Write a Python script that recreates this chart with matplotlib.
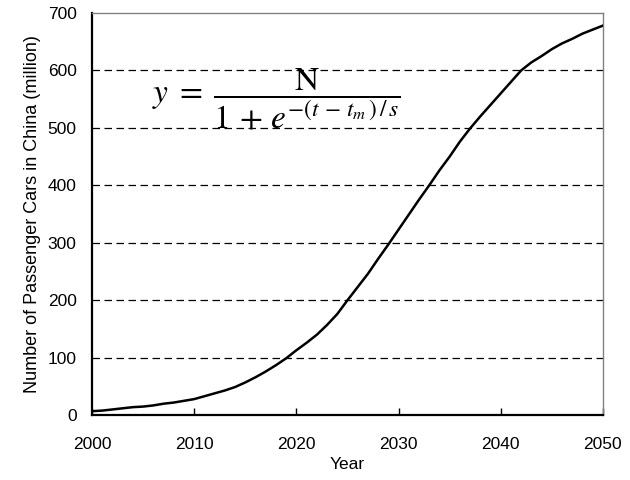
import numpy as np
import matplotlib.pyplot as plt

# values (million cars)
years = list(range(2000, 2051))
cars = [7, 8, 10, 12, 14, 15, 17, 20, 22, 25,
        28, 33, 38, 43, 49, 57, 66, 76, 87, 99,
        113, 126, 140, 157, 176, 200, 223, 246, 272, 297,
        323, 349, 375, 400, 426, 450, 476, 499, 520, 540,
        560, 580, 600, 614, 625, 637, 647, 655, 664, 671, 678]

x_ticks = [2000, 2010, 2020, 2030, 2040, 2050]
y_ticks = [0, 100, 200, 300, 400, 500, 600, 700]

plt.rcParams['font.family'] = ['Liberation Sans', 'DejaVu Sans']
plt.rcParams['mathtext.fontset'] = 'stix'

fig = plt.figure(figsize=(6.3, 4.8), dpi=100)
ax = fig.add_axes([0.146, 0.135, 0.811, 0.838])

for v in y_ticks[1:-1]:
    ax.axhline(v, color='black', lw=0.9, linestyle=(0, (6, 3.6)), zorder=1)

ax.plot(years, cars, color='black', lw=1.8, zorder=3)

ax.set_xlim(2000, 2050)
ax.set_ylim(0, 700)
ax.set_xticks(x_ticks)
ax.set_yticks(y_ticks)
ax.tick_params(axis='x', direction='in', length=5, width=1, pad=16, labelsize=12.5)
ax.tick_params(axis='y', length=0, pad=11, labelsize=12.5)

for side in ['left', 'bottom']:
    ax.spines[side].set_linewidth(1.6)
    ax.spines[side].set_color('black')
for side in ['top', 'right']:
    ax.spines[side].set_linewidth(1.0)
    ax.spines[side].set_color('#808080')

ax.set_xlabel('Year', fontsize=12.5, labelpad=3)
ax.set_ylabel('Number of Passenger Cars in China (million)', fontsize=13, labelpad=5)

ax.text(2018.1, 550, r'$y\;=\;\dfrac{\mathrm{N}}{1\,+\,e^{-(t\,-\,t_m\,)\,/\,s}}$',
        fontsize=24, ha='center', va='center', zorder=4)

fig.savefig('out.png', dpi=100)
